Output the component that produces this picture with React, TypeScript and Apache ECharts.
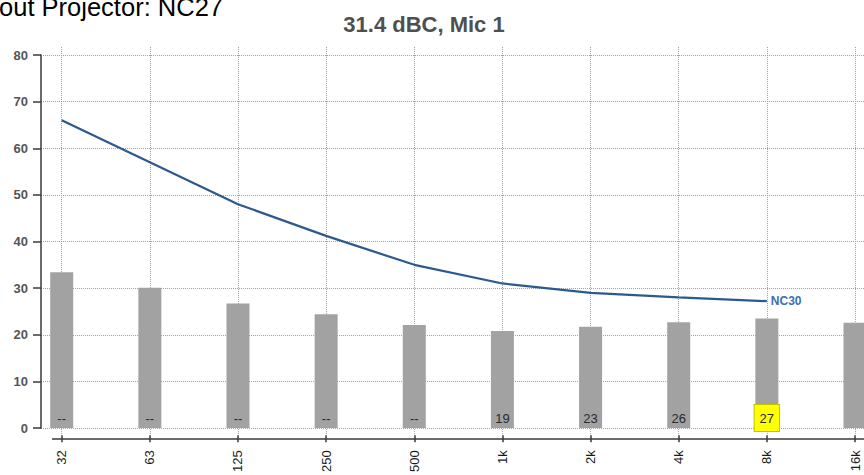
import React, { useEffect, useRef } from "react";
import * as echarts from "echarts";

const categories = ["32", "63", "125", "250", "500", "1k", "2k", "4k", "8k", "16k"];
const measured = [33.4, 30.1, 26.7, 24.4, 22.1, 20.8, 21.7, 22.7, 23.5, 22.6];
const ncRatings = ["--", "--", "--", "--", "--", "19", "23", "26", "27", ""];
const nc30 = [66, 57, 48, 41.2, 35, 31, 29, 28, 27.2];
const highlighted = "27";
const curveName = "NC30";
const titleText = "31.4 dBC, Mic 1";
const headerText = "Without Projector: NC27";
const yTicks = [0, 10, 20, 30, 40, 50, 60, 70, 80];

const FONT = "'Liberation Sans', Arial, sans-serif";
const GRID_LINE = { color: "#a0a0a0", width: 1, type: [1, 1] as any };

export default function App() {
  const ref = useRef<HTMLDivElement>(null);
  useEffect(() => {
    if (!ref.current) return;
    const chart = echarts.init(ref.current, undefined, { renderer: "svg" });
    const barData = measured.map((v, i) => {
      const isHi = ncRatings[i] === highlighted;
      return {
        value: v,
        label: {
          show: ncRatings[i] !== "",
          formatter: ncRatings[i],
          position: "insideBottom",
          distance: -3,
          padding: [6, 5, 6, 5],
          lineHeight: 14,
          color: "#2a2a2a",
          fontSize: 13,
          fontFamily: FONT,
          backgroundColor: isHi ? "#ffff00" : "transparent",
          borderColor: isHi ? "#c2c200" : "transparent",
          borderWidth: isHi ? 1 : 0,
        },
      };
    });
    chart.setOption({
      animation: false,
      textStyle: { fontFamily: FONT },
      grid: [
        { left: 41, right: 0, top: 55, bottom: 47 },
        { left: 61.7, right: 9, top: 55, bottom: 47 },
        { left: 61.7, right: 9, top: 47, bottom: 39 },
      ],
      xAxis: [
        { gridIndex: 0, type: "value", show: false, min: 0, max: 1 },
        {
          gridIndex: 1,
          type: "category",
          data: categories,
          boundaryGap: false,
          show: false,
        },
        {
          gridIndex: 2,
          type: "category",
          data: categories,
          boundaryGap: false,
          position: "bottom",
          offset: 3,
          axisLine: { show: false },
          axisTick: { show: true, length: 7, lineStyle: { color: "#3a3a3a", width: 1.5 } },
          axisLabel: {
            rotate: 90,
            margin: 12,
            color: "#1a1a1a",
            fontSize: 13,
            fontFamily: FONT,
          },
          splitLine: { show: true, lineStyle: GRID_LINE },
        },
      ],
      yAxis: [
        {
          gridIndex: 0,
          type: "value",
          min: yTicks[0],
          max: yTicks[yTicks.length - 1],
          interval: 10,
          axisLine: { show: true, lineStyle: { color: "#3a3a3a", width: 1.5 } },
          axisTick: { show: true, length: 8, lineStyle: { color: "#3a3a3a", width: 1.5 } },
          axisLabel: {
            margin: 13,
            color: "#555",
            fontWeight: "bold",
            fontSize: 13,
            fontFamily: FONT,
          },
          splitLine: { show: true, lineStyle: GRID_LINE },
        },
        {
          gridIndex: 1,
          type: "value",
          min: yTicks[0],
          max: yTicks[yTicks.length - 1],
          interval: 10,
          show: false,
        },
        { gridIndex: 2, type: "value", show: false, min: 0, max: 1 },
      ],
      graphic: [
        {
          type: "line",
          shape: { x1: 52, y1: 439, x2: 864, y2: 439 },
          style: { stroke: "#3a3a3a", lineWidth: 1.5 },
          z: 10,
        },
        {
          type: "text",
          x: 424,
          y: 24,
          style: {
            text: titleText,
            fill: "#4f4f4f",
            fontSize: 22,
            fontWeight: "bold",
            fontFamily: FONT,
            align: "center",
            verticalAlign: "middle",
          },
        },
        {
          type: "text",
          x: 223,
          y: 7,
          style: {
            text: headerText,
            fill: "#000",
            fontSize: 25.5,
            fontFamily: FONT,
            align: "right",
            verticalAlign: "middle",
          },
        },
      ],
      series: [
        {
          type: "bar",
          xAxisIndex: 1,
          yAxisIndex: 1,
          data: barData,
          barWidth: 23,
          clip: false,
          itemStyle: { color: "#a2a2a2" },
          z: 3,
        },
        {
          type: "line",
          name: curveName,
          xAxisIndex: 1,
          yAxisIndex: 1,
          data: nc30,
          showSymbol: false,
          symbol: "none",
          clip: false,
          lineStyle: { color: "#2b5a8e", width: 2.2 },
          endLabel: {
            show: true,
            formatter: curveName,
            distance: 4,
            color: "#3a6fb0",
            fontWeight: "bold",
            fontSize: 12,
            fontFamily: FONT,
          },
          z: 4,
        },
      ],
    });
    return () => chart.dispose();
  }, []);
  return (
    <div
      ref={ref}
      style={{ position: "fixed", left: 0, top: 0, width: 864, height: 475, background: "#fff" }}
    />
  );
}
